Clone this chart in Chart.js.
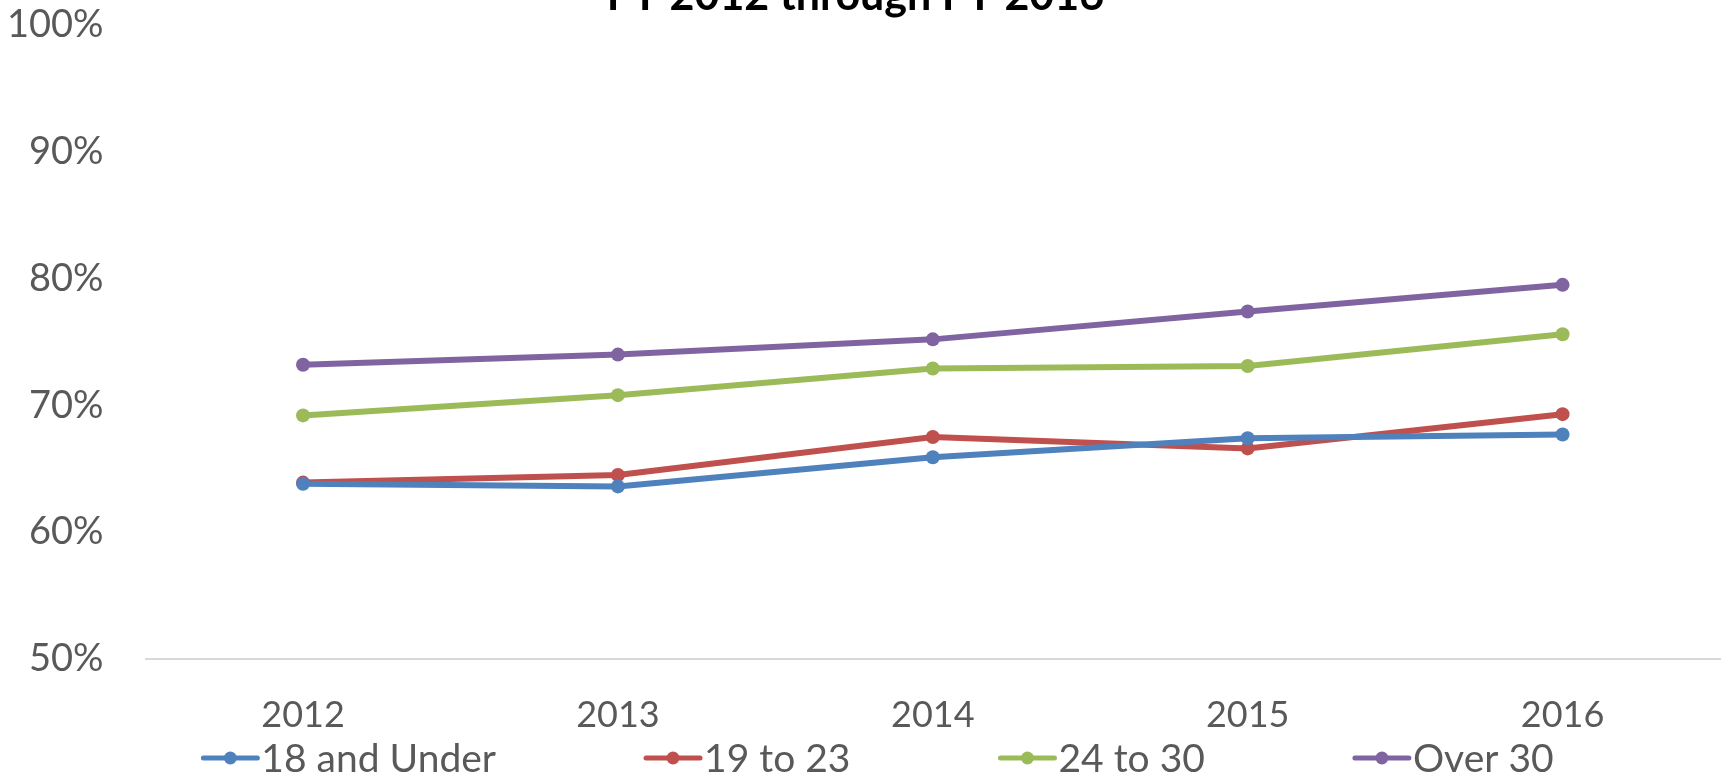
<!DOCTYPE html>
<html>
<head>
<meta charset="utf-8">
<script src="https://cdn.jsdelivr.net/npm/chart.js@4"></script>
<style>
  html, body { margin: 0; padding: 0; background: #fff; }
  #wrap { position: relative; width: 1727px; height: 775px; }
</style>
</head>
<body>
<div id="wrap"><canvas id="rateChart"></canvas></div>
<script>
const years = ['2012', '2013', '2014', '2015', '2016'];
const seriesNames = ['18 and Under', '19 to 23', '24 to 30', 'Over 30'];
const under18 = [63.8, 63.6, 65.9, 67.4, 67.7];
const age19to23 = [63.9, 64.5, 67.5, 66.6, 69.3];
const age24to30 = [69.2, 70.8, 72.9, 73.1, 75.6];
const over30 = [73.2, 74.0, 75.2, 77.4, 79.5];
const yTicks = [50, 60, 70, 80, 90, 100];
const chartTitle = 'FY 2012 through FY 2016';

const colors = ['#4F81BD', '#C0504D', '#9BBB59', '#8064A2'];
const textGray = '#595959';
const fontFamily = 'Lato, "Open Sans", sans-serif';

// title sits mostly above the top edge, only its lower half shows
const titlePlugin = {
    id: 'clippedTitle',
    afterDraw(chart) {
        const ctx = chart.ctx;
        ctx.save();
        ctx.font = 'bold 43px ' + fontFamily;
        ctx.fillStyle = '#000';
        ctx.textAlign = 'center';
        ctx.textBaseline = 'alphabetic';
        ctx.fillText(chartTitle, chart.width / 2 - 8, 10);
        ctx.restore();
    }
};

// legend with line+marker swatches and wide gaps between entries
const lineLegend = {
    id: 'lineLegend',
    afterDraw(chart) {
        const ctx = chart.ctx;
        const swatch = 54, textGap = 4, itemGap = 150;
        ctx.save();
        ctx.font = '39px ' + fontFamily;
        const widths = chart.data.datasets.map(ds => swatch + textGap + ctx.measureText(ds.label).width);
        const total = widths.reduce((a, b) => a + b, 0) + itemGap * (widths.length - 1);
        let x = chart.width / 2 + 15 - total / 2;
        const y = 758;
        chart.data.datasets.forEach((ds, i) => {
            ctx.strokeStyle = ds.borderColor;
            ctx.lineWidth = 5;
            ctx.lineCap = 'round';
            ctx.beginPath();
            ctx.moveTo(x, y);
            ctx.lineTo(x + swatch, y);
            ctx.stroke();
            ctx.fillStyle = ds.borderColor;
            ctx.beginPath();
            ctx.arc(x + swatch / 2, y, 6.5, 0, Math.PI * 2);
            ctx.fill();
            ctx.fillStyle = textGray;
            ctx.textAlign = 'left';
            ctx.textBaseline = 'middle';
            ctx.fillText(ds.label, x + swatch + textGap, y + 1);
            x += widths[i] + itemGap;
        });
        ctx.restore();
    }
};

const seriesData = [under18, age19to23, age24to30, over30];

new Chart(document.getElementById('rateChart'), {
    type: 'line',
    data: {
        labels: years,
        datasets: seriesData.map((values, i) => ({
            label: seriesNames[i],
            data: values,
            borderColor: colors[i],
            backgroundColor: colors[i],
            borderWidth: 6,
            pointRadius: 7,
            pointHoverRadius: 7,
            pointBorderWidth: 0,
            tension: 0,
            fill: false
        }))
    },
    options: {
        responsive: true,
        maintainAspectRatio: false,
        animation: false,
        layout: {
            padding: { top: 25, left: -35, right: 4, bottom: 3 }
        },
        plugins: {
            legend: { display: false },
            title: { display: false },
            tooltip: { enabled: false }
        },
        scales: {
            x: {
                offset: true,
                grid: { display: false, drawTicks: false },
                border: { display: true, color: '#D9D9D9', width: 2 },
                ticks: { color: textGray, padding: 35, font: { family: fontFamily, size: 36 } }
            },
            y: {
                min: 50,
                max: 100,
                afterBuildTicks(axis) { axis.ticks = yTicks.map(v => ({ value: v })); },
                // let the 100% label overhang the top instead of pushing the plot down
                afterFit(axis) { axis.paddingTop = 0; axis.paddingBottom = 0; },
                grid: { display: false, drawTicks: false },
                border: { display: false },
                ticks: {
                    color: textGray,
                    padding: 42,
                    font: { family: fontFamily, size: 38 },
                    callback: v => v + '%'
                }
            }
        }
    },
    plugins: [titlePlugin, lineLegend]
});
</script>
</body>
</html>
